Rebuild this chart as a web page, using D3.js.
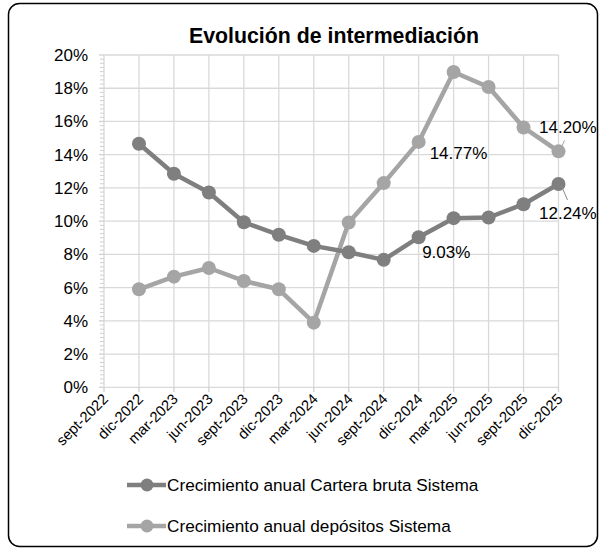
<!DOCTYPE html>
<html><head><meta charset="utf-8">
<script src="https://cdn.jsdelivr.net/npm/d3@7"></script>
<style>body{margin:0;background:#fff;}svg{display:block;font-family:Arial,"Liberation Sans",sans-serif;}</style>
</head><body>
<svg id="c" width="600" height="548"></svg>
<script>
const categories = ["sept-2022","dic-2022","mar-2023","jun-2023","sept-2023","dic-2023","mar-2024","jun-2024","sept-2024","dic-2024","mar-2025","jun-2025","sept-2025","dic-2025"];
const cartera = [null,14.66,12.85,11.72,9.93,9.18,8.51,8.13,7.67,9.03,10.18,10.22,11.02,12.24];
const depositos = [null,5.90,6.66,7.18,6.40,5.90,3.89,9.92,12.29,14.77,18.98,18.07,15.64,14.20];
const yTicks = [0,2,4,6,8,10,12,14,16,18,20];
const seriesNames = ["Crecimiento anual Cartera bruta Sistema","Crecimiento anual depósitos Sistema"];
const colors = ["#7f7f7f","#a5a5a5"];

const svg = d3.select("#c");
svg.append("rect").attr("x",8.5).attr("y",3.5).attr("width",589).attr("height",543)
  .attr("rx",11).attr("fill","#fff").attr("stroke","#000").attr("stroke-width",1.5);

svg.append("text").attr("x",334).attr("y",43).attr("text-anchor","middle")
  .attr("font-size",21.3).attr("font-weight","bold").attr("fill","#000").text("Evolución de intermediación");

const x = d3.scalePoint().domain(categories).range([104,558.5]);
const y = d3.scaleLinear().domain([0,20]).range([387.3,55]);

// gridlines
const g = svg.append("g");
g.selectAll("line.h").data(yTicks).join("line")
  .attr("x1",104).attr("x2",558.5).attr("y1",d=>y(d)).attr("y2",d=>y(d))
  .attr("stroke","#d9d9d9").attr("stroke-width",1.3);
g.selectAll("line.v").data(categories).join("line")
  .attr("x1",d=>x(d)).attr("x2",d=>x(d)).attr("y1",55).attr("y2",387.3)
  .attr("stroke","#d9d9d9").attr("stroke-width",1.3);

// minor ticks
const minor = d3.range(0,20.001,0.25).filter(v=>Math.abs(v/2-Math.round(v/2))>1e-6);
g.selectAll("line.m").data(minor).join("line")
  .attr("x1",100).attr("x2",104).attr("y1",d=>y(d)).attr("y2",d=>y(d))
  .attr("stroke","#d0d0d0").attr("stroke-width",1);
g.selectAll("line.M").data(yTicks).join("line")
  .attr("x1",99).attr("x2",104).attr("y1",d=>y(d)).attr("y2",d=>y(d))
  .attr("stroke","#d0d0d0").attr("stroke-width",1.3);
g.selectAll("line.xt").data(categories).join("line")
  .attr("x1",d=>x(d)).attr("x2",d=>x(d)).attr("y1",387.3).attr("y2",392)
  .attr("stroke","#d0d0d0").attr("stroke-width",1.3);

// y labels
svg.append("g").selectAll("text").data(yTicks).join("text")
  .attr("x",88).attr("y",d=>y(d)+6).attr("text-anchor","end")
  .attr("font-size",17).attr("fill","#000").text(d=>d+"%");

// x labels
svg.append("g").selectAll("text").data(categories).join("text")
  .attr("transform",d=>`translate(${x(d)+5},${400}) rotate(-45)`)
  .attr("text-anchor","end").attr("font-size",14.8).attr("fill","#000").text(d=>d);

// lines
const line = d3.line().defined(d=>d.v!=null).x(d=>x(d.c)).y(d=>y(d.v));
[depositos,cartera].forEach((arr,i)=>{
  const col = i===0?colors[1]:colors[0];
  const data = categories.map((c,j)=>({c,v:arr[j]}));
  svg.append("path").datum(data).attr("d",line).attr("fill","none")
    .attr("stroke",col).attr("stroke-width",4.5).attr("stroke-linejoin","round");
  svg.append("g").selectAll("circle").data(data.filter(d=>d.v!=null)).join("circle")
    .attr("cx",d=>x(d.c)).attr("cy",d=>y(d.v)).attr("r",7).attr("fill",col);
});

// data labels
const last = categories.length-1;
const fmt = v=>v.toFixed(2)+"%";
const xl = x(categories[last]);
svg.append("line").attr("x1",xl+2.5).attr("y1",y(depositos[last])-3)
  .attr("x2",xl+6).attr("y2",y(depositos[last])-11).attr("stroke","#a5a5a5").attr("stroke-width",1);
svg.append("line").attr("x1",xl+2.5).attr("y1",y(cartera[last])+1)
  .attr("x2",xl+9).attr("y2",y(cartera[last])+16).attr("stroke","#8a8a8a").attr("stroke-width",1);
const lbl = (txt,xx,yy)=>svg.append("text").attr("x",xx).attr("y",yy).attr("font-size",17).attr("fill","#000").text(txt);
lbl(fmt(depositos[9]),x(categories[9])+11,y(depositos[9])+17.5);
lbl(fmt(depositos[last]),xl-19.5,y(depositos[last])-18);
lbl(fmt(cartera[9]),x(categories[9])+3.5,y(cartera[9])+21);
lbl(fmt(cartera[last]),xl-19.5,y(cartera[last])+35.5);

// legend
const leg = svg.append("g");
seriesNames.forEach((n,i)=>{
  const ly = 485 + i*41;
  leg.append("line").attr("x1",127).attr("x2",166).attr("y1",ly).attr("y2",ly)
    .attr("stroke",colors[i]).attr("stroke-width",4.5);
  leg.append("circle").attr("cx",147).attr("cy",ly).attr("r",6.5).attr("fill",colors[i]);
  leg.append("text").attr("x",167).attr("y",ly+6).attr("font-size",17.2).attr("fill","#000").text(n);
});
</script>
</body></html>
